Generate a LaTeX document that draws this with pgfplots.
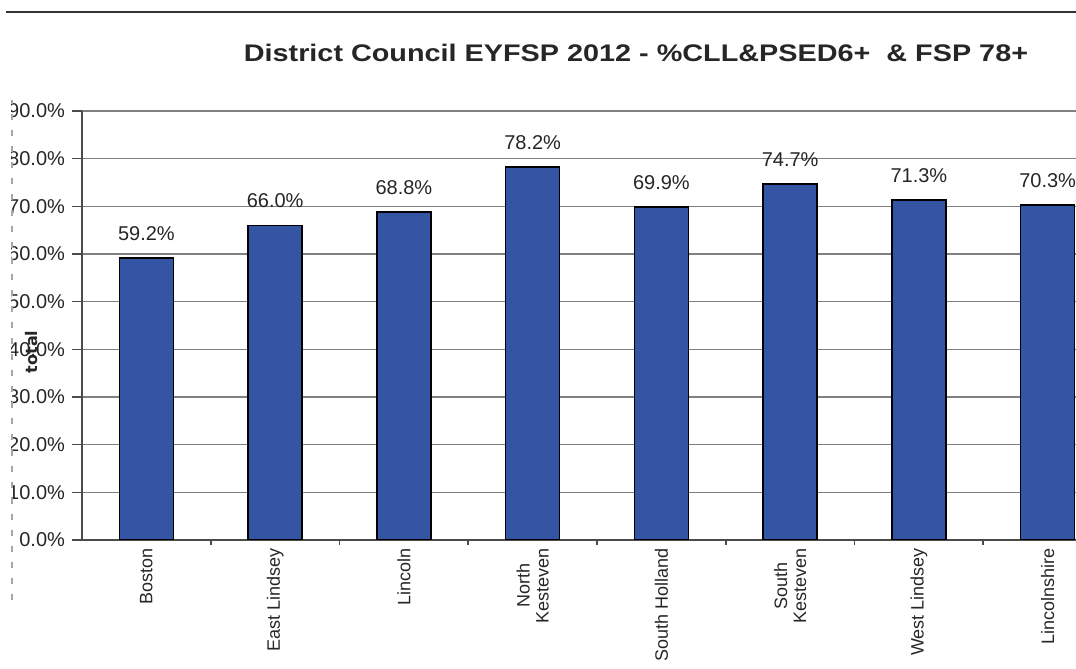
\documentclass[border=0pt]{standalone}
\usepackage{fontspec}
\setmainfont{Liberation Sans}
\newfontfamily\dejavu{DejaVu Sans}
\usepackage{graphicx}
\usepackage{pgfplots}
\pgfplotsset{compat=1.18}
\definecolor{barblue}{RGB}{52,84,164}
\definecolor{gridgray}{RGB}{128,128,128}
\definecolor{axgray}{RGB}{75,75,75}
\begin{document}
\begin{tikzpicture}
\useasboundingbox (0,0) rectangle (538pt,334.5pt);
\begin{scope}
\clip (0,0) rectangle (538pt,334.5pt);
\begin{axis}[
  at={(41pt,64.5pt)}, anchor=south west,
  scale only axis, width=515pt, height=214.5pt,
  xmin=-0.5, xmax=7.5, ymin=0, ymax=90,
  axis x line=bottom, axis y line=left,
  x axis line style={-, draw=axgray, line width=1.1pt},
  y axis line style={-, draw=axgray, line width=0.8pt},
  ytick={0,10,...,90},
  yticklabels={0.0\%,10.0\%,20.0\%,30.0\%,40.0\%,50.0\%,60.0\%,70.0\%,80.0\%,90.0\%},
  ymajorgrids, major grid style={gridgray, line width=0.8pt},
  tick align=outside, major tick length=5pt, minor tick length=2.5pt,
  y tick style={axgray, line width=0.8pt},
  xtick={0,...,7},
  xticklabels={Boston, East Lindsey, Lincoln, North\\Kesteven, South Holland, South\\Kesteven, West Lindsey, Lincolnshire},
  major x tick style={draw=none},
  minor xtick={0.5,1.5,...,6.5},
  minor x tick style={axgray, line width=0.8pt},
  xticklabel shift=-4.5pt,
  x tick label style={rotate=90, anchor=east, align=center, font=\fontsize{9}{9.5}\selectfont, text=black!85},
  y tick label style={font=\fontsize{10}{12}\selectfont, text=black!85},
  bar width=27pt,
  nodes near coords={\pgfmathprintnumber[fixed,fixed zerofill,precision=1,assume math mode=true]{\pgfplotspointmeta}\%},
  nodes near coords style={font=\fontsize{10}{12}\selectfont, text=black!85, anchor=south, yshift=5pt},
]
\addplot[ybar, fill=barblue, draw=black, line width=0.8pt] coordinates {
  (0,59.2) (1,66.0) (2,68.8) (3,78.2) (4,69.9) (5,74.7) (6,71.3) (7,70.3)
};
\end{axis}
\end{scope}
\fill[white] (0,54.5pt) rectangle (5.6pt,287pt);
\draw[gray!70, line width=0.6pt, dash pattern=on 3pt off 5pt] (6pt,34.5pt) -- (6pt,284.5pt);
\node[rotate=90, font=\dejavu\bfseries\fontsize{8}{9}\selectfont, text=black!85] at (16pt,158.5pt) {total};
\node[anchor=base, font=\bfseries\fontsize{12}{14}\selectfont, text=black!85] at (318pt,303.5pt) {\scalebox{1.2}[1]{District Council EYFSP 2012 - \%CLL\&PSED6+ \ \& FSP 78+}};
\draw[line width=1pt, black!80] (3pt,328.25pt) -- (538pt,328.25pt);
\end{tikzpicture}
\end{document}
